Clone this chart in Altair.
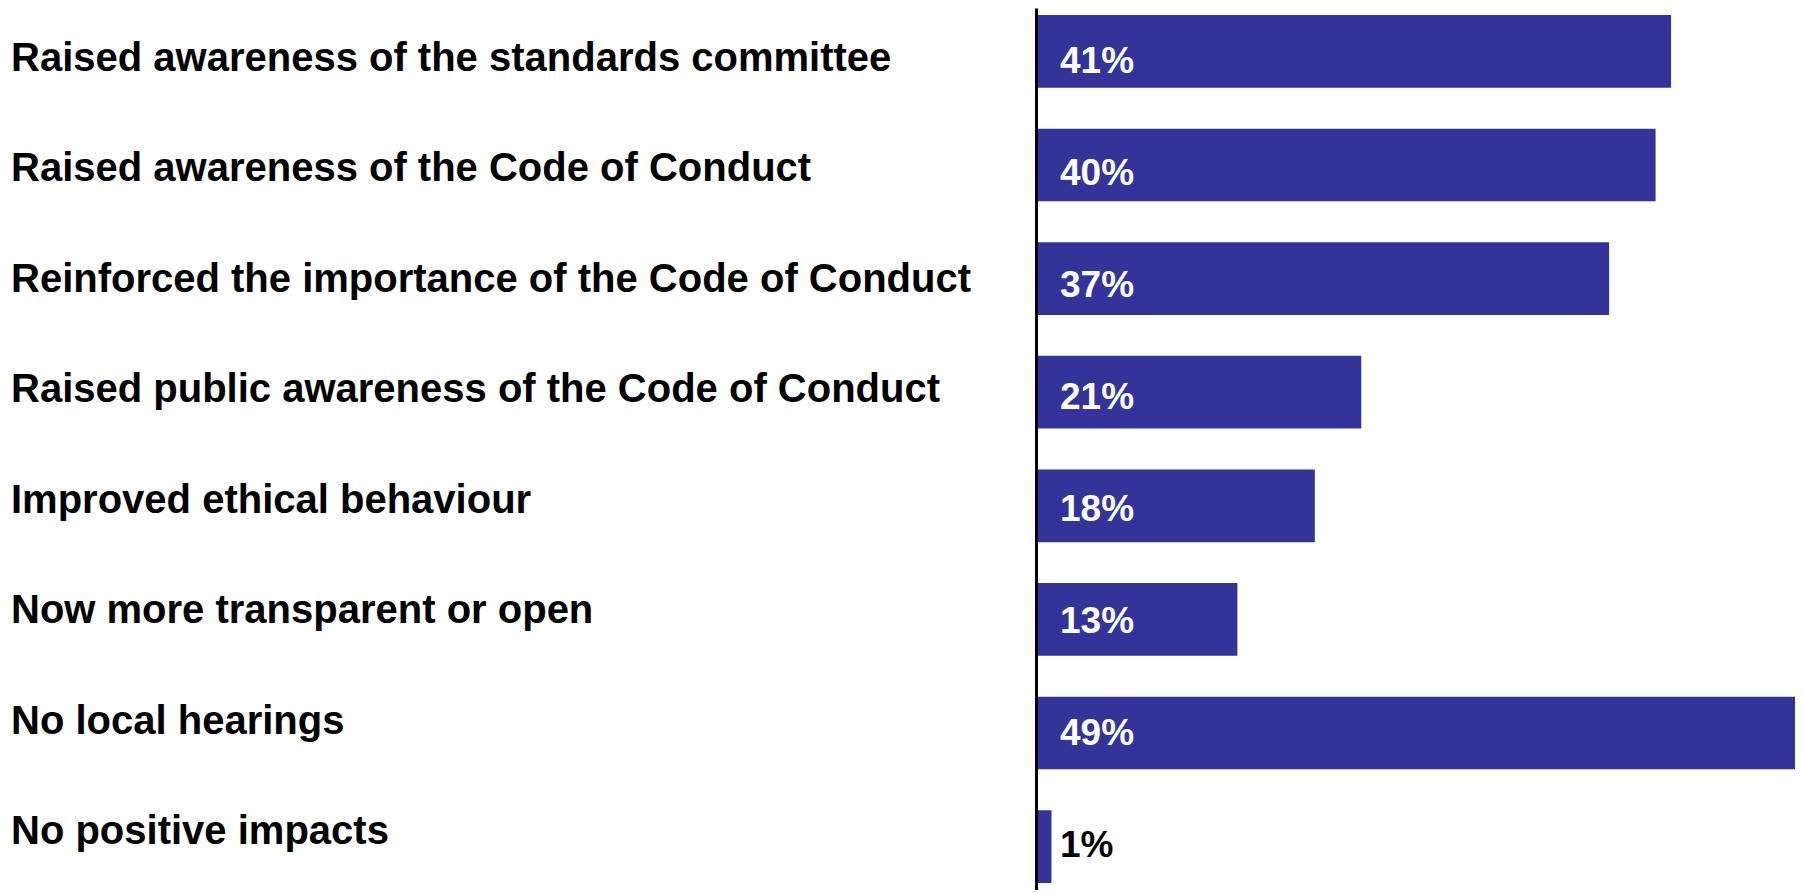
import altair as alt
import pandas as pd

categories = [
    "Raised awareness of the standards committee",
    "Raised awareness of the Code of Conduct",
    "Reinforced the importance of the Code of Conduct",
    "Raised public awareness of the Code of Conduct",
    "Improved ethical behaviour",
    "Now more transparent or open",
    "No local hearings",
    "No positive impacts",
]
values = [41, 40, 37, 21, 18, 13, 49, 1]

df = pd.DataFrame({"category": categories, "value": values})

FONT = "Liberation Sans"
BAR = "#333399"

base = alt.Chart(df)

bars = base.mark_bar(color=BAR).encode(
    y=alt.Y(
        "category:N",
        sort=categories,
        scale=alt.Scale(paddingInner=0.36, paddingOuter=0.062),
        axis=alt.Axis(
            labels=False, ticks=False, title=None, domain=True,
            domainColor="black", domainWidth=3, zindex=1, grid=False,
        ),
    ),
    x=alt.X(
        "value:Q",
        scale=alt.Scale(domain=[0, 49], nice=False, zero=True),
        axis=None,
    ),
)

pct = base.transform_calculate(
    label="datum.value + '%'"
).mark_text(
    font=FONT, fontWeight="bold", fontSize=37, align="left", baseline="alphabetic"
).encode(
    y=alt.Y(
        "category:N",
        sort=categories,
        scale=alt.Scale(type="point", range=[65, 849], padding=0),
        axis=None,
    ),
    x=alt.value(24),
    text="label:N",
    color=alt.condition("datum.value < 5", alt.value("black"), alt.value("white")),
)

cats = base.mark_text(
    font=FONT, fontWeight="bold", fontSize=40, align="left", baseline="alphabetic",
    color="black",
).encode(
    y=alt.Y(
        "category:N",
        sort=categories,
        scale=alt.Scale(type="point", range=[63, 836], padding=0),
        axis=None,
    ),
    x=alt.value(-1025),
    text="category:N",
)

chart = alt.layer(bars, pct, cats).resolve_scale(y="independent").properties(
    width=759,
    height=882,
    background="white",
    autosize=alt.AutoSizeParams(type="none"),
    padding={"left": 1028, "top": 0, "right": 0, "bottom": 0},
).configure_view(stroke=None, strokeWidth=0)

chart.save("out.html", embed_options={"renderer": "svg", "actions": False})
